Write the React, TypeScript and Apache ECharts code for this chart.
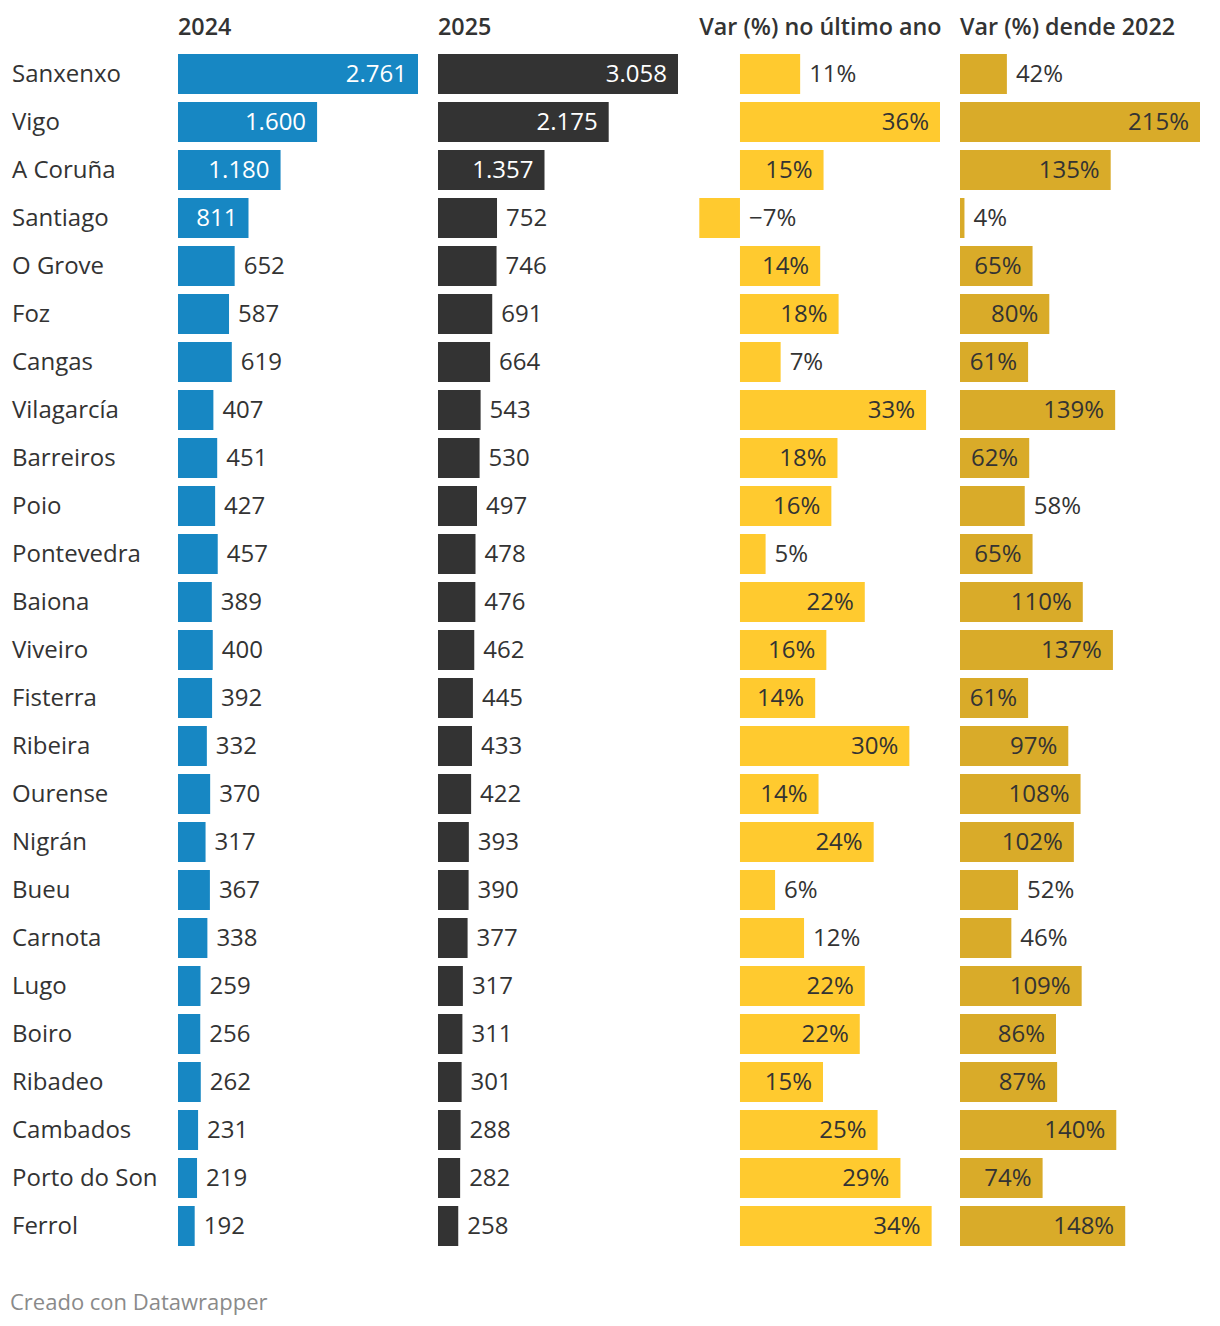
import React, { useEffect, useRef } from "react";
import * as echarts from "echarts";

const cities = [
  "Sanxenxo", "Vigo", "A Coruña", "Santiago", "O Grove", "Foz", "Cangas", "Vilagarcía",
  "Barreiros", "Poio", "Pontevedra", "Baiona", "Viveiro", "Fisterra", "Ribeira", "Ourense",
  "Nigrán", "Bueu", "Carnota", "Lugo", "Boiro", "Ribadeo", "Cambados", "Porto do Son", "Ferrol",
];
const v2024 = [2761, 1600, 1180, 811, 652, 587, 619, 407, 451, 427, 457, 389, 400, 392, 332, 370, 317, 367, 338, 259, 256, 262, 231, 219, 192];
const v2025 = [3058, 2175, 1357, 752, 746, 691, 664, 543, 530, 497, 478, 476, 462, 445, 433, 422, 393, 390, 377, 317, 311, 301, 288, 282, 258];
const varLastYear = [10.8, 35.9, 15.0, -7.3, 14.4, 17.7, 7.3, 33.4, 17.5, 16.4, 4.6, 22.4, 15.5, 13.5, 30.4, 14.1, 24.0, 6.3, 11.5, 22.4, 21.5, 14.9, 24.7, 28.8, 34.4];
const varSince2022 = [42, 215, 135, 4, 65, 80, 61, 139, 62, 58, 65, 110, 137, 61, 97, 108, 102, 52, 46, 109, 86, 87, 140, 74, 148];
const headers = ["2024", "2025", "Var (%) no último ano", "Var (%) dende 2022"];
const footer = "Creado con Datawrapper";

const FONT = "'Open Sans', sans-serif";
const FS = 24;
const TEXT = "#333333";

function fmtThousands(v: number): string {
  const s = String(Math.round(Math.abs(v)));
  const out = s.replace(/\B(?=(\d{3})+(?!\d))/g, ".");
  return (v < 0 ? "−" : "") + out;
}
function fmtPct(v: number): string {
  const r = Math.round(v);
  return (r < 0 ? "−" + Math.abs(r) : String(r)) + "%";
}

let ctx: CanvasRenderingContext2D | null = null;
function textWidth(s: string): number {
  if (!ctx) {
    const c = document.createElement("canvas");
    ctx = c.getContext("2d");
  }
  if (!ctx) return s.length * FS * 0.6;
  ctx.font = `${FS}px ${FONT}`;
  return ctx.measureText(s).width;
}

export default function App() {
  const ref = useRef<HTMLDivElement>(null);
  useEffect(() => {
    document.body.style.margin = "0";
    if (!ref.current) return;
    const chart = echarts.init(ref.current, null, { renderer: "svg" });

    const top = 50;
    const height = 1200;
    const cols = [
      { left: 178, width: 240, min: 0, max: 2761, values: v2024, color: "#1787c3", inside: "#ffffff", fmt: fmtThousands },
      { left: 438, width: 240, min: 0, max: 3058, values: v2025, color: "#333333", inside: "#ffffff", fmt: fmtThousands },
      { left: 699.3, width: 240.7, min: -7.3, max: 35.9, values: varLastYear, color: "#ffca2f", inside: TEXT, fmt: fmtPct },
      { left: 960, width: 240, min: 0, max: 215, values: varSince2022, color: "#d9ab29", inside: TEXT, fmt: fmtPct },
    ];

    const grid = cols.map((c) => ({ left: c.left, top, width: c.width, height, containLabel: false }));
    const xAxis = cols.map((c, i) => ({
      type: "value", gridIndex: i, min: c.min, max: c.max, show: false,
    }));
    const yAxis = cols.map((c, i) => ({
      type: "category", gridIndex: i, data: cities, inverse: true,
      axisLine: { show: false }, axisTick: { show: false }, splitLine: { show: false },
      axisLabel: i === 0 ? {
        show: true, align: "left", margin: 178 - 12, color: TEXT,
        fontFamily: FONT, fontSize: FS,
        formatter: (v: string) => `{n|${v}}`,
        rich: { n: { fontFamily: FONT, fontSize: FS, color: TEXT, padding: [0, 0, 4, 0] } },
      } : { show: false },
    }));
    const series = cols.map((c, i) => {
      const pxPerUnit = c.width / (c.max - c.min);
      return {
        type: "bar", xAxisIndex: i, yAxisIndex: i, barWidth: 40,
        itemStyle: { color: c.color },
        label: {
          show: true, fontFamily: FONT, fontSize: FS, offset: [0, -2],
          formatter: (p: any) => c.fmt(p.value),
        },
        data: c.values.map((v) => {
          const barPx = Math.abs(v) * pxPerUnit;
          const fits = barPx >= textWidth(c.fmt(v)) + 19;
          return {
            value: v,
            label: fits
              ? { position: "insideRight", distance: 11, color: c.inside }
              : { position: "right", distance: 9, color: TEXT },
          };
        }),
      };
    });

    const graphic: any[] = headers.map((h, i) => ({
      type: "text", x: cols[i].left, y: 26,
      style: { text: h, font: `600 23.3px ${FONT}`, fill: TEXT, align: "left", verticalAlign: "middle" },
    }));
    graphic.push({
      type: "text", x: 10, y: 1301,
      style: { text: footer, font: `22px ${FONT}`, fill: "#8a8a8a", align: "left", verticalAlign: "middle" },
    });

    chart.setOption({
      animation: false,
      backgroundColor: "#ffffff",
      grid, xAxis, yAxis, series, graphic,
    } as any);
    return () => chart.dispose();
  }, []);
  return <div ref={ref} style={{ width: 1220, height: 1326 }} />;
}
